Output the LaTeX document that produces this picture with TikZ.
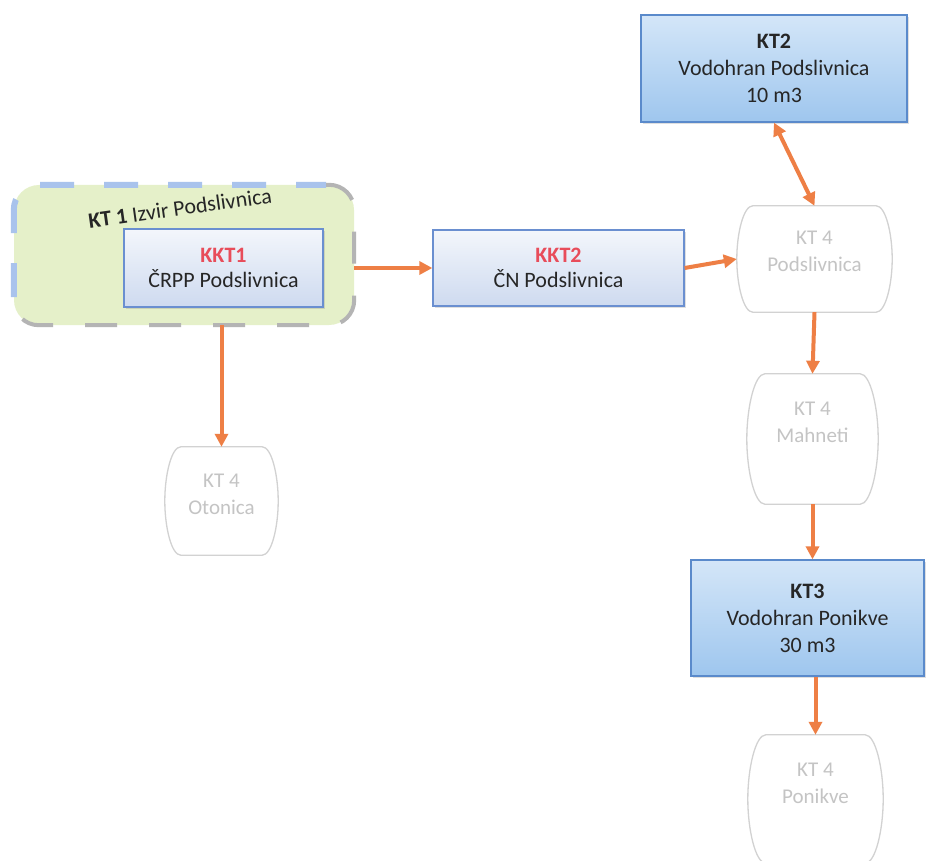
\documentclass[tikz,border=0pt]{standalone}
\usepackage{fontspec}
\setmainfont{Carlito}
\usetikzlibrary{arrows.meta,shadows,calc}
\definecolor{arr}{HTML}{EE7F45}
\definecolor{kred}{HTML}{E84C5A}
\definecolor{kbord}{HTML}{6A8FD0}
\definecolor{kbordd}{HTML}{5A8ACB}
\definecolor{ktop}{HTML}{D4E6F8}
\definecolor{kbot}{HTML}{9EC6EE}
\definecolor{greenf}{HTML}{E5F0C9}
\definecolor{dashblue}{HTML}{A9C3EC}
\definecolor{dashgray}{HTML}{B4B4B4}
\definecolor{barline}{HTML}{D2D2D2}
\definecolor{bartext}{HTML}{C4C4C4}
\definecolor{txt}{HTML}{262626}
\tikzset{
  lightbox/.style={draw=kbord, line width=1.3pt, top color=white!92!kbord, bottom color=kbord!33,
    drop shadow={opacity=0.25, shadow xshift=1.5pt, shadow yshift=-2pt},
    align=center, text=txt, font=\fontsize{22}{25}\selectfont},
  bluebox/.style={draw=kbordd, line width=1.3pt, top color=ktop, bottom color=kbot,
    drop shadow={opacity=0.25, shadow xshift=1.5pt, shadow yshift=-2pt},
    align=center, text=txt, font=\fontsize{22}{27}\selectfont},
  barframe/.style={draw=none, inner sep=0pt},
  bartxt/.style={align=center, text=bartext, font=\fontsize{21}{27}\selectfont},
  barline/.style={draw=barline, line width=1.3pt},
  flow/.style={draw=arr, line width=4pt, -{Triangle[length=13pt,width=13pt]}},
  flowtwo/.style={draw=arr, line width=4pt, {Triangle[length=13pt,width=13pt]}-{Triangle[length=13pt,width=13pt]}},
}
% #1 node name, #2 bulge (pt)
\newcommand{\barrelshape}[2]{%
  \draw[barline] let \p1=(#1.north west), \p2=(#1.south east),
     \n1={0.5*(\y1+\y2)}, \n2={0.26*(\y1-\y2)} in
   (\x1+4pt,\y1) -- (\x2-4pt,\y1)
   .. controls (\x2+0.45*#2,\y1) and (\x2+#2,\y1-\n2) .. (\x2+#2,\n1)
   .. controls (\x2+#2,\y2+\n2) and (\x2+0.45*#2,\y2) .. (\x2-4pt,\y2)
   -- (\x1+4pt,\y2)
   .. controls (\x1-0.45*#2,\y2) and (\x1-#2,\y2+\n2) .. (\x1-#2,\n1)
   .. controls (\x1-#2,\y1-\n2) and (\x1-0.45*#2,\y1) .. cycle;}
\begin{document}
\begin{tikzpicture}[x=1pt,y=-1pt]
\useasboundingbox (0,0) rectangle (926,861);
\clip (0,0) rectangle (926,861);
\fill[white] (0,0) rectangle (926,861);

% green region KT1
\node[fill=greenf, rounded corners=25pt, minimum width=340pt, minimum height=140pt, inner sep=0pt] (kt1) at (184,255) {};
\draw[dashblue, line width=6pt, dash pattern=on 34pt off 30pt, rounded corners=25pt]
  ([yshift=28pt]kt1.south west) |- ([xshift=-28pt]kt1.north east);
\draw[dashgray, line width=4pt, dash pattern=on 32pt off 32pt, rounded corners=25pt]
  ([xshift=-28pt]kt1.north east) -| (kt1.south east) -| ([yshift=28pt]kt1.south west);
\node[rotate=8, text=txt, font=\fontsize{22}{25}\selectfont] (kt1lbl) at (180,208) {\textbf{KT 1} Izvir Podslivnica};

% boxes
\node[lightbox, minimum width=199pt, minimum height=78pt] (kkt1) at (223.5,268)
  {\textbf{\textcolor{kred}{KKT1}}\\ČRPP Podslivnica};
\node[lightbox, minimum width=251pt, minimum height=76pt] (kkt2) at (558.5,268)
  {\textbf{\textcolor{kred}{KKT2}}\\ČN Podslivnica};
\node[bluebox, minimum width=266pt, minimum height=107pt] (kt2) at (774,68.5)
  {\textbf{KT2}\\Vodohran Podslivnica\\10 m3};
\node[bluebox, minimum width=233pt, minimum height=116pt] (kt3) at (807.5,618)
  {\textbf{KT3}\\Vodohran Ponikve\\30 m3};

% barrels
\node[barframe, minimum width=131pt, minimum height=106pt] (bp) at (814.5,259) {};
\barrelshape{bp}{12pt}
\node[bartxt] (bpt) at (814.5,251) {KT 4\\Podslivnica};

\node[barframe, minimum width=103pt, minimum height=130pt] (bm) at (812.5,439) {};
\barrelshape{bm}{14pt}
\node[bartxt] (bmt) at (812.5,422) {KT 4\\Mahneti};

\node[barframe, minimum width=89pt, minimum height=108pt] (bo) at (221.5,501) {};
\barrelshape{bo}{12pt}
\node[bartxt] (bot) at (221.5,494) {KT 4\\Otonica};

\node[barframe, minimum width=107pt, minimum height=128pt] (bpo) at (815.5,799) {};
\barrelshape{bpo}{14pt}
\node[bartxt] (bpot) at (815.5,783) {KT 4\\Ponikve};

% connectors
\coordinate (bpw) at ([xshift=-12pt]bp.west);
\draw[flow] (kt1.east |- kkt2.west) -- (kkt2.west);
\draw[flow] (kt1.south -| bo.north) -- (bo.north);
\draw[flow] (kkt2.east) -- (bpw);
\draw[flowtwo] (kt2.south) -- (bp.north);
\draw[flow] (bp.south) -- (bm.north);
\draw[flow] (bm.south) -- (bm.south |- kt3.north);
\draw[flow] (kt3.south -| bpo.north) -- (bpo.north);
\end{tikzpicture}
\end{document}
